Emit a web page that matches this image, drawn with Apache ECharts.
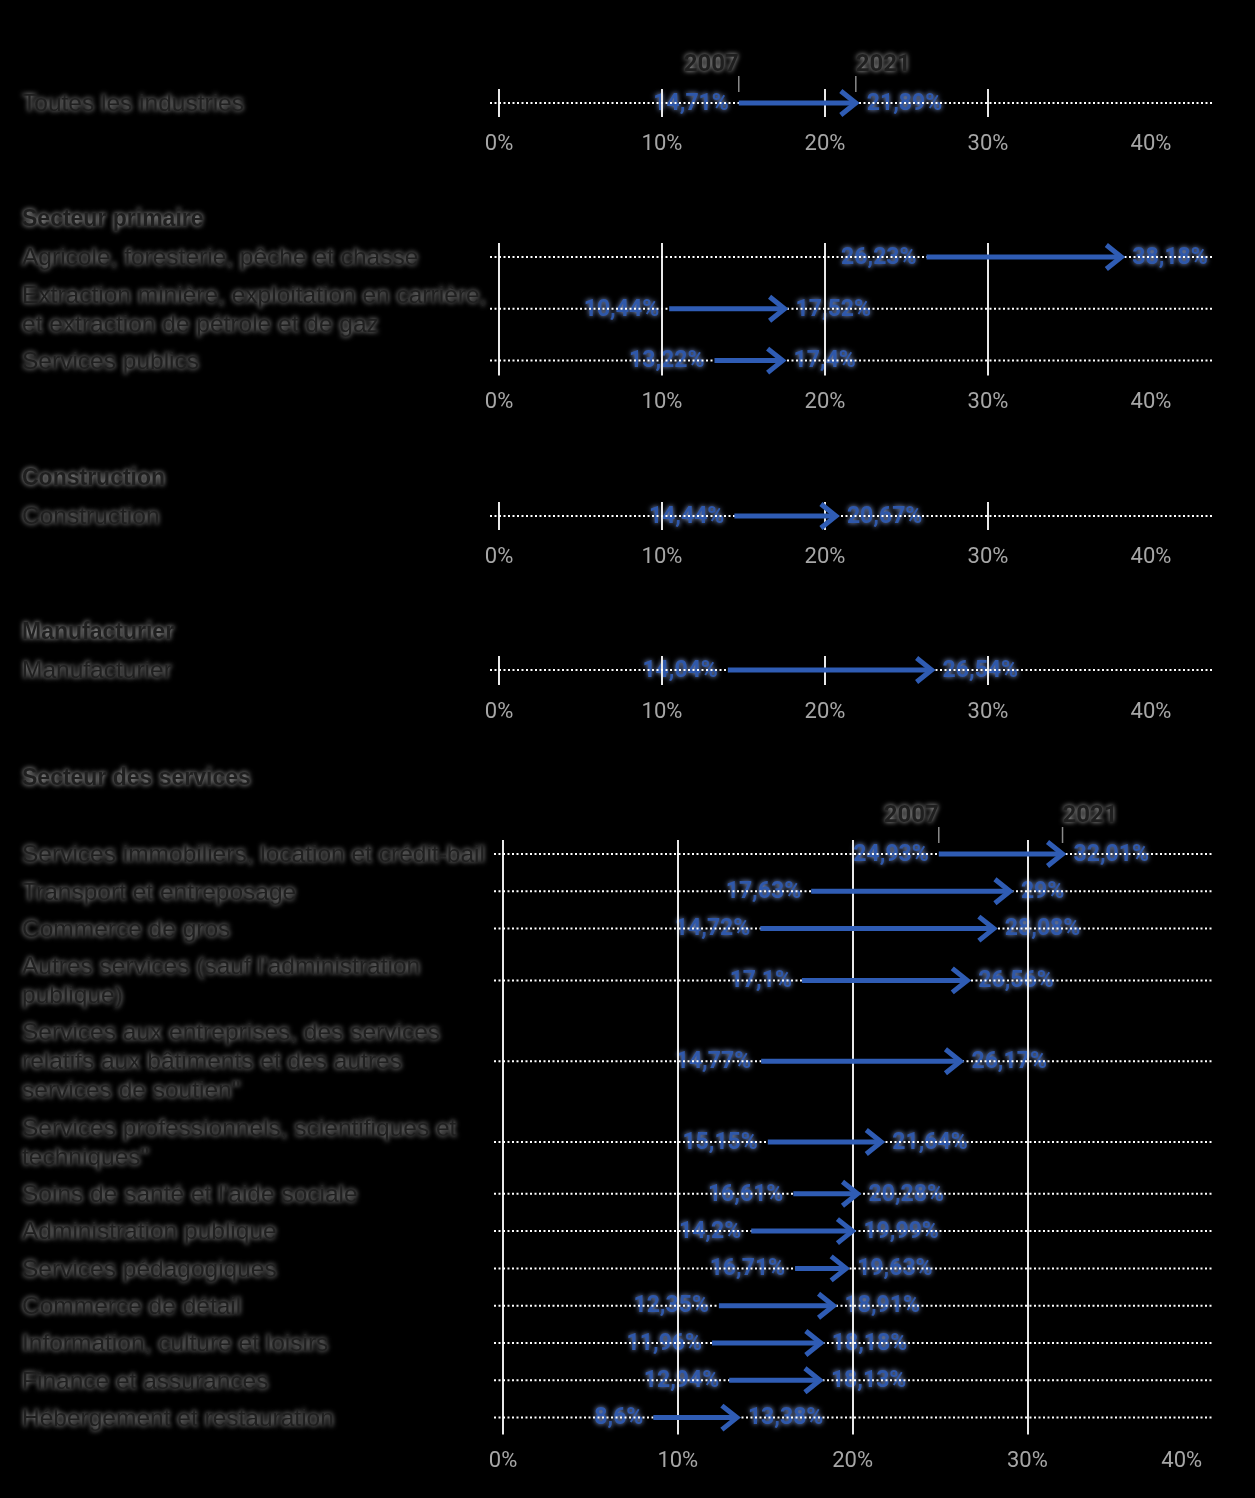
<!DOCTYPE html>
<html><head><meta charset="utf-8">
<script src="https://cdn.jsdelivr.net/npm/echarts@6/dist/echarts.min.js"></script>
<style>html,body{margin:0;padding:0;background:#000}#c{width:1255px;height:1498px}</style>
</head><body><div id="c"></div>
<script>
// ---------- DATA ----------
const allCategories = ['Toutes les industries'];
const allStart = [14.71];
const allEnd = [21.89];

const primaryHeader = 'Secteur primaire';
const primaryCategories = [
  'Agricole, foresterie, pêche et chasse',
  'Extraction minière, exploitation en carrière,\net extraction de pétrole et de gaz',
  'Services publics'
];
const primaryStart = [26.23, 10.44, 13.22];
const primaryEnd = [38.18, 17.52, 17.4];

const constructionHeader = 'Construction';
const constructionCategories = ['Construction'];
const constructionStart = [14.44];
const constructionEnd = [20.67];

const manufHeader = 'Manufacturier';
const manufCategories = ['Manufacturier'];
const manufStart = [14.04];
const manufEnd = [26.54];

const servicesHeader = 'Secteur des services';
const servicesCategories = [
  'Services immobiliers, location et crédit-bail',
  'Transport et entreposage',
  'Commerce de gros',
  "Autres services (sauf l'administration\npublique)",
  'Services aux entreprises, des services\nrelatifs aux bâtiments et des autres\nservices de soutien"',
  'Services professionnels, scientifiques et\ntechniques"',
  "Soins de santé et l'aide sociale",
  'Administration publique',
  'Services pédagogiques',
  'Commerce de détail',
  'Information, culture et loisirs',
  'Finance et assurances',
  'Hébergement et restauration'
];
const servicesStart = [24.93, 17.63, 14.72, 17.1, 14.77, 15.15, 16.61, 14.2, 16.71, 12.35, 11.96, 12.94, 8.6];
const servicesEnd = [32.01, 29, 28.08, 26.56, 26.17, 21.64, 20.28, 19.99, 19.63, 18.91, 18.18, 18.13, 13.38];

const xTickValues = [0, 10, 20, 30, 40];
const yearLabels = ['2007', '2021'];

// ---------- LAYOUT / STYLE ----------
const panels = [
  {header: null, cats: allCategories, start: allStart, end: allEnd, firstY: 103, years: true, zeroX: 499, pxPer: 16.3, right: 1213, padB: 14},
  {header: primaryHeader, headerY: 218, cats: primaryCategories, start: primaryStart, end: primaryEnd, firstY: 257, zeroX: 499, pxPer: 16.3, right: 1213, padB: 15},
  {header: constructionHeader, headerY: 477, cats: constructionCategories, start: constructionStart, end: constructionEnd, firstY: 516, zeroX: 499, pxPer: 16.3, right: 1213, padB: 14},
  {header: manufHeader, headerY: 631, cats: manufCategories, start: manufStart, end: manufEnd, firstY: 670, zeroX: 499, pxPer: 16.3, right: 1213, padB: 15},
  {header: servicesHeader, headerY: 777, cats: servicesCategories, start: servicesStart, end: servicesEnd, firstY: 854, years: true, zeroX: 503, pxPer: 17.48, right: 1212, alignMax: true, padB: 17}
];
const ROW_H = 37.3, LINE_H = 29, PAD = 14, TXT_DY = 1.5;
const ARROW = '#2f5cb4';
const rowStyle = {fontFamily: 'Liberation Sans, Arial, sans-serif', fontSize: 24.5, fill: '#1f1f1f',
  textShadowColor: 'rgba(200,200,200,0.95)', textShadowBlur: 5};
const headStyle = Object.assign({}, rowStyle, {fontWeight: 'bold', fontSize: 23});
const valStyle = {fontFamily: 'Roboto, sans-serif', fontSize: 23, fontWeight: 'bold', fill: '#2f58aa',
  textShadowColor: 'rgba(150,175,235,0.95)', textShadowBlur: 5};
const yearStyle = {fontFamily: 'Roboto, sans-serif', fontSize: 24, fontWeight: 'bold', fill: '#1f1f1f',
  textShadowColor: 'rgba(200,200,200,0.95)', textShadowBlur: 5};

const fmt = v => String(v).replace('.', ',') + '%';

const grids = [], xAxes = [], yAxes = [], series = [], graphics = [];

panels.forEach((p, pi) => {
  const heights = p.cats.map(c => ROW_H + LINE_H * (c.split('\n').length - 1));
  const offs = []; let acc = 0;
  heights.forEach((h, i) => { if (i > 0) acc += (heights[i - 1] + h) / 2; offs.push(acc); });
  const last = offs[offs.length - 1];
  grids.push({left: p.zeroX, top: p.firstY - PAD, width: p.right - p.zeroX, height: last + PAD + p.padB});
  xAxes.push({
    gridIndex: pi, type: 'value', min: 0, max: (p.right - p.zeroX) / p.pxPer, interval: 10,
    axisLine: {show: false},
    axisTick: {show: false, customValues: xTickValues},
    axisLabel: {customValues: xTickValues, formatter: v => v + '%', color: '#a6a6a6', fontSize: 22,
      fontFamily: 'Roboto, sans-serif', margin: 16, alignMaxLabel: p.alignMax ? 'right' : null},
    splitLine: {show: true, showMaxLine: false, lineStyle: {color: '#e8e8e8', width: 2}}
  });
  yAxes.push({gridIndex: pi, type: 'value', inverse: true, min: -PAD, max: last + p.padB, show: false});
  const data = p.cats.map((c, i) => [p.start[i], p.end[i], offs[i], i]);

  if (p.header) {
    graphics.push({type: 'text', x: 22, y: p.headerY + TXT_DY, style: Object.assign({text: p.header, verticalAlign: 'middle'}, headStyle)});
  }

  series.push({
    type: 'custom', xAxisIndex: pi, yAxisIndex: pi, z: -1, silent: true, clip: false,
    encode: {x: [0, 1], y: 2}, data,
    renderItem: function (params, api) {
      const i = api.value(3);
      const a = api.coord([api.value(0), api.value(2)]);
      const b = api.coord([api.value(1), api.value(2)]);
      const y = a[1];
      const ch = [
        {type: 'text', x: a[0] - 10, y: y + 1, style: Object.assign({text: fmt(api.value(0)), align: 'right', verticalAlign: 'middle'}, valStyle)},
        {type: 'text', x: b[0] + 11, y: y + 1, style: Object.assign({text: fmt(api.value(1)), align: 'left', verticalAlign: 'middle'}, valStyle)},
        {type: 'text', x: 22, y: y + TXT_DY, style: Object.assign({text: p.cats[i], align: 'left', verticalAlign: 'middle', lineHeight: LINE_H}, rowStyle)}
      ];
      if (p.years && i === 0) {
        ch.push({type: 'line', shape: {x1: a[0], y1: y - 27, x2: a[0], y2: y - 11}, style: {stroke: '#8a8a8a', lineWidth: 1.5}});
        ch.push({type: 'line', shape: {x1: b[0], y1: y - 27, x2: b[0], y2: y - 11}, style: {stroke: '#8a8a8a', lineWidth: 1.5}});
        ch.push({type: 'text', x: a[0], y: y - 38, style: Object.assign({text: yearLabels[0], align: 'right', verticalAlign: 'middle'}, yearStyle)});
        ch.push({type: 'text', x: b[0], y: y - 38, style: Object.assign({text: yearLabels[1], align: 'left', verticalAlign: 'middle'}, yearStyle)});
      }
      return {type: 'group', children: ch};
    }
  });

  series.push({
    type: 'custom', xAxisIndex: pi, yAxisIndex: pi, z: 3, silent: true, clip: false,
    encode: {x: [0, 1], y: 2}, data,
    renderItem: function (params, api) {
      const a = api.coord([api.value(0), api.value(2)]);
      const b = api.coord([api.value(1), api.value(2)]);
      const y = a[1];
      const cs = params.coordSys;
      return {type: 'group', children: [
        {type: 'line', z2: 0, shape: {x1: cs.x - 9, y1: y, x2: cs.x + cs.width, y2: y},
          style: {stroke: '#ffffff', lineWidth: 2, lineDash: [2, 2.5]}},
        {type: 'line', z2: 1, shape: {x1: a[0], y1: y, x2: b[0] - 2, y2: y},
          style: {stroke: ARROW, lineWidth: 5}},
        {type: 'polyline', z2: 1, shape: {points: [[b[0] - 15, y - 12], [b[0], y], [b[0] - 15, y + 12]]},
          style: {stroke: ARROW, lineWidth: 5, fill: null, lineJoin: 'miter'}}
      ]};
    }
  });
});

const chart = echarts.init(document.getElementById('c'));
chart.setOption({
  backgroundColor: '#000',
  animation: false,
  grid: grids,
  xAxis: xAxes,
  yAxis: yAxes,
  graphic: graphics,
  series: series
});
</script>
</body></html>
